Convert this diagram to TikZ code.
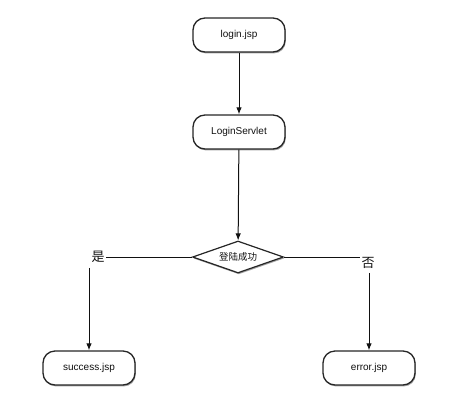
\documentclass[tikz,border=0pt]{standalone}
\usepackage{fontspec}
\setmainfont{Liberation Sans}
\newfontfamily\cjk{Noto Sans CJK SC}
\usetikzlibrary{arrows.meta,positioning,calc,shapes.geometric,shadows}
\definecolor{tinta}{HTML}{111111}
\definecolor{borde}{HTML}{262626}
\definecolor{sombra}{HTML}{7A7A7A}

\begin{document}
\begin{tikzpicture}[x=1pt,y=-1pt,
    paso/.style={draw=borde,line width=1.3pt,rounded corners=12pt,fill=white,
                 minimum width=92pt,minimum height=34pt,align=center,
                 font=\fontsize{10}{12}\selectfont\color{tinta},
                 drop shadow={shadow xshift=0.8pt,shadow yshift=-1.4pt,
                              fill=sombra,opacity=0.7}},
    decision/.style={diamond,aspect=2.85,draw=borde,line width=1.2pt,fill=white,
                 inner sep=1pt,minimum width=91pt,minimum height=32pt,
                 font=\cjk\fontsize{9.5}{11}\selectfont\color{tinta},
                 drop shadow={shadow xshift=0.8pt,shadow yshift=-1.4pt,
                              fill=sombra,opacity=0.7}},
    rama/.style={font=\cjk\fontsize{13}{15}\selectfont\color{tinta},inner sep=1pt},
    >={Latex[length=7pt,width=5.5pt]}]
  \useasboundingbox (0,0) rectangle (454,407);
  \node[paso] (login) at (239,35) {login.jsp};
  \node[paso] (servlet) at (239,132) {LoginServlet};
  \node[decision] (exito) at (238,257) {登陆成功};
  \node[rama] (si) at (98,257) {是};
  \node[rama] (no) at (368,263) {否};
  \node[paso] (ok) at (89,368) {success.jsp};
  \node[paso] (err) at (369,368) {error.jsp};

  \draw[->,tinta,line width=1pt] (login) -- (servlet);
  \draw[->,tinta,line width=1pt] (servlet) -- (exito);
  % ramas de la decision
  \draw[tinta,line width=1pt] (exito.west) -- (si.east);
  \draw[tinta,line width=1pt] (exito.east) -- (exito.east -| no.west);
  \draw[->,tinta,line width=1pt] ($(si.south -| ok.north)+(0,4)$) -- (ok.north);
  \draw[->,tinta,line width=1pt] ($(no.south -| err.north)+(0,3)$) -- (err.north);
\end{tikzpicture}
\end{document}
